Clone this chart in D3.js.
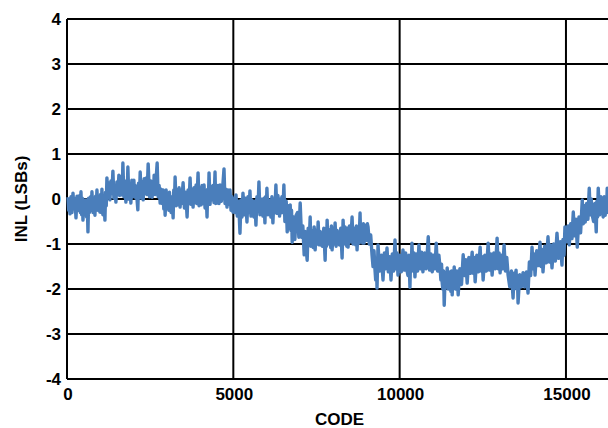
<!DOCTYPE html>
<html><head><meta charset="utf-8">
<script src="https://cdn.jsdelivr.net/npm/d3@7"></script>
<style>body{margin:0;background:#fff}svg{display:block}</style>
</head><body>
<svg id="c" width="608" height="428"></svg>
<script>
const codes = [30,50,70,90,120,150,180,210,240,270,300,330,360,380,400,420,440,460,480,510,540,570,590,610,630,650,670,690,710,730,750,780,810,840,860,880,900,930,960,990,1010,1030,1050,1080,1110,1140,1160,1180,1200,1230,1260,1290,1320,1350,1380,1410,1440,1470,1500,1530,1560,1580,1600,1620,1640,1660,1680,1710,1740,1770,1790,1810,1830,1860,1890,1920,1950,1980,2010,2030,2050,2070,2090,2110,2130,2150,2180,2200,2230,2260,2290,2320,2350,2380,2400,2420,2440,2480,2520,2560,2580,2600,2620,2650,2680,2710,2740,2770,2800,2830,2860,2890,2910,2930,2950,2980,3010,3040,3060,3080,3100,3130,3160,3190,3210,3230,3250,3280,3310,3340,3370,3400,3430,3450,3470,3490,3530,3570,3610,3640,3670,3700,3730,3760,3790,3820,3850,3880,3900,3920,3940,3970,4000,4030,4060,4090,4120,4150,4180,4210,4230,4250,4270,4300,4330,4360,4390,4420,4450,4470,4490,4510,4540,4570,4600,4640,4680,4720,4750,4780,4810,4840,4870,4900,4930,4960,4990,5020,5050,5080,5120,5160,5200,5230,5260,5290,5330,5370,5410,5440,5470,5500,5530,5560,5590,5620,5650,5680,5710,5740,5770,5800,5830,5860,5890,5920,5950,5970,5990,6010,6040,6070,6100,6130,6160,6190,6220,6250,6280,6310,6340,6370,6390,6410,6430,6460,6490,6520,6550,6590,6620,6650,6680,6710,6730,6750,6770,6810,6850,6890,6930,6970,7010,7050,7090,7130,7160,7190,7220,7250,7280,7310,7330,7350,7370,7400,7430,7460,7490,7520,7550,7580,7610,7640,7680,7720,7760,7780,7800,7820,7850,7880,7910,7930,7950,7970,8000,8030,8060,8090,8120,8150,8190,8230,8270,8300,8330,8360,8390,8410,8430,8450,8490,8530,8570,8600,8630,8660,8680,8700,8720,8750,8780,8810,8830,8850,8870,8890,8910,8930,8950,8970,8990,9010,9030,9050,9090,9130,9170,9200,9230,9260,9280,9300,9320,9350,9400,9450,9500,9540,9580,9620,9660,9700,9740,9780,9820,9860,9890,9920,9950,10000,10050,10100,10140,10180,10220,10250,10280,10310,10330,10350,10370,10400,10430,10460,10500,10540,10580,10620,10660,10700,10750,10800,10860,10900,10940,10980,11020,11060,11100,11140,11180,11220,11240,11260,11280,11300,11320,11340,11370,11400,11430,11460,11490,11520,11540,11560,11580,11600,11620,11640,11680,11720,11760,11810,11860,11910,11950,11990,12030,12080,12130,12180,12210,12240,12270,12320,12370,12420,12450,12480,12510,12560,12610,12660,12700,12740,12780,12830,12880,12930,12960,12990,13020,13060,13100,13140,13180,13220,13260,13310,13360,13410,13440,13470,13500,13520,13540,13560,13610,13660,13710,13760,13810,13860,13900,13940,13980,14010,14040,14070,14120,14170,14220,14250,14280,14310,14360,14410,14460,14500,14540,14580,14630,14680,14730,14780,14830,14880,14910,14940,14970,15010,15060,15100,15140,15180,15220,15260,15300,15340,15390,15440,15490,15520,15550,15580,15620,15660,15700,15730,15760,15790,15830,15870,15910,15930,15950,15970,16010,16050,16090,16120,16150,16180,16200,16220,16240,16280,16330,16383];
const inl = [
 0.04,-0.25,-0.02, -0.33,0.05,-0.3, 0.13,-0.22,0.0, -0.42,0.06,-0.25, 0.07,-0.05,-0.3, 0.16,-0.35,0.02,
 -0.47,-0.02,-0.28, -0.02,-0.4,-0.05, -0.73,0.02,-0.3, -0.13,0.05,-0.25, 0.16,-0.3,0.0, -0.36,0.06,-0.2,
 0.2,-0.25,0.05, -0.29,0.1,-0.3, 0.22,-0.35,0.0, -0.47,0.15,-0.15,
 0.47,0.05,0.35, -0.02,0.4,0.12, 0.62,0.02,0.3, -0.07,0.38,0.1, 0.53,0.08,0.3, 0.09,0.5,0.15,
 0.8,0.05,0.4, -0.07,0.32,0.1, 0.71,0.0,0.35, -0.09,0.42,0.05, 0.42,0.1,0.3, 0.02,0.25,-0.05,
 -0.24,0.35,0.05, 0.6,0.02,0.38, -0.02,0.45,0.12, 0.47,0.1,0.35, 0.78,0.05,0.4, 0.04,0.35,0.12,
 0.53,0.1,0.45, 0.8,0.05,0.3,
 -0.09,0.22,-0.1, 0.2,-0.22,0.1, -0.36,0.2,-0.15, 0.09,-0.25,0.15, -0.13,-0.3,0.05, -0.42,0.2,-0.1,
 0.49,-0.15,0.2, -0.13,0.25,-0.18, 0.2,-0.1,0.15, 0.36,-0.2,0.15, -0.4,0.2,-0.1, 0.47,-0.12,0.22,
 -0.18,0.25,-0.08, 0.31,-0.1,0.2, 0.58,-0.15,0.25, -0.13,0.3,-0.1, 0.31,-0.2,0.18, -0.4,0.22,-0.05,
 0.58,-0.12,0.28, -0.02,0.3,-0.08, 0.6,-0.1,0.25, -0.09,0.3,-0.1, 0.31,-0.05,0.25, 0.67,-0.1,0.22,
 -0.18,0.2,-0.12,
 0.2,-0.25,0.05, -0.29,0.0,-0.3, 0.09,-0.38,-0.05, -0.76,-0.02,-0.4, 0.13,-0.35,0.02, -0.51,0.05,-0.3,
 0.18,-0.38,-0.02, -0.24,-0.4,-0.05, -0.58,0.05,-0.28, 0.38,-0.35,0.0, -0.13,-0.38,0.02, -0.53,0.05,-0.3,
 0.24,-0.35,-0.02, -0.13,-0.4,0.05, -0.53,0.0,-0.3, 0.31,-0.32,0.08, -0.13,-0.38,0.0, -0.31,0.05,-0.3,
 0.31,-0.5,-0.05, -0.73,-0.15,-0.65, -0.13,-0.7,-0.25, -0.96,-0.4,-0.9, -0.36,-0.3,-0.85, -0.09,-0.85,-0.6,
 -1.24,-0.72,-1.1, -1.36,-0.65,-1.0, -0.4,-1.05,-0.7, -0.91,-1.08,-0.62, -1.13,-0.7,-1.0, -0.51,-1.02,-0.72,
 -1.02,-1.05,-0.65, -1.36,-0.75,-1.05, -0.47,-1.0,-0.68, -0.91,-1.08,-0.6, -1.13,-0.7,-1.0, -0.53,-1.05,-0.7,
 -0.91,-1.02,-0.65, -1.31,
 -0.47,-1.0,-0.62, -0.8,-1.05,-0.65, -1.07,-0.6,-0.95, -0.4,-1.0,-0.65, -0.8,-1.02,-0.6, -1.13,-0.65,-0.98,
 -0.31,-0.95,-0.6, -0.69,-0.98,-0.55, -0.98,-0.58,-0.9, -0.58,-0.92,-0.55, -0.62,-1.0,-0.8,
 -1.24,-1.5,-1.15, -1.58,-1.8,-1.35, -1.98,
 -1.02,-1.6,-1.25, -1.8,-1.2,-1.55, -1.09,-1.62,-1.28, -1.8,-1.22,-1.6, -0.91,-1.55,-1.2, -1.69,-1.25,-1.62,
 -1.13,-1.58,-1.2, -1.58,-1.7,-1.25, -1.96,-1.25,-1.55, -0.98,-1.6,-1.2, -1.73,-1.22,-1.6, -1.02,-1.55,-1.18,
 -1.62,-1.2,-1.55, -0.84,-1.58,-1.22, -1.62,-1.25,-1.55, -0.98,-1.6,-1.25,
 -1.58,-1.8,-1.45, -1.87,-2.0,-1.6, -2.36,-1.65,-1.95, -1.53,-2.0,-1.62, -1.91,-2.05,-1.6, -2.13,-1.65,-1.95,
 -1.51,-2.0,-1.6, -2.13,-1.55,-1.9,
 -1.24,-1.7,-1.35, -1.87,-1.3,-1.65, -1.18,-1.65,-1.3, -1.84,-1.25,-1.62, -1.07,-1.6,-1.28, -1.8,-1.25,-1.6,
 -0.98,-1.58,-1.22, -1.69,-1.2,-1.55, -0.87,-1.55,-1.2, -1.64,-1.25,-1.55, -1.02,-1.6,-1.3,
 -1.69,-1.95,-1.6, -2.2,-1.65,-1.98, -1.58,-2.0,-1.7, -2.31,-1.68,-1.95, -1.64,-1.95,-1.62, -2.09,-1.4,-1.7,
 -1.07,-1.55,-1.22, -1.69,-1.15,-1.48, -0.96,-1.5,-1.12, -1.62,-1.05,-1.42, -0.84,-1.4,-1.02, -1.53,-1.0,-1.38,
 -0.76,-1.32,-0.95, -1.47,-0.9,-1.25,
 -0.62,-0.95,-0.6, -1.02,-0.55,-0.88, -0.29,-0.82,-0.45, -1.07,-0.4,-0.75, -0.02,-0.55,-0.15, -0.51,-0.1,-0.45,
 0.24,-0.35,0.0, -0.36,-0.5,-0.1, -0.73,-0.05,-0.4, 0.24,-0.35,0.05, -0.24,-0.4,0.05, -0.36,0.0,-0.3,
 0.24,-0.3,0.1, -0.1];
const xTicks = [0,5000,10000,15000];
const yTicks = [-4,-3,-2,-1,0,1,2,3,4];
const xDomain = [0,16384];
const yDomain = [-4,4];

const svg = d3.select('#c');
const L=67, T=19, B=379, R=612;
const x = d3.scaleLinear().domain(xDomain).range([L,R]);
const y = d3.scaleLinear().domain(yDomain).range([B,T]);
const font = '"Liberation Sans", Arial, sans-serif';

// gridlines
svg.append('g').selectAll('line').data(yTicks).join('line')
  .attr('x1',L).attr('x2',R).attr('y1',d=>y(d)).attr('y2',d=>y(d))
  .attr('stroke','#000').attr('stroke-width',2);
svg.append('g').selectAll('line').data(xTicks).join('line')
  .attr('x1',d=>x(d)).attr('x2',d=>x(d)).attr('y1',T).attr('y2',B)
  .attr('stroke','#000').attr('stroke-width',2);

// data line
const n = Math.min(codes.length, inl.length);
const data = d3.range(n).map(i=>[codes[i],inl[i]]);
svg.append('path').datum(data)
  .attr('d', d3.line().x(d=>x(d[0])).y(d=>y(d[1])))
  .attr('fill','none').attr('stroke','#4a7ebb').attr('stroke-width',3.4)
  .attr('stroke-linejoin','round');

// tick labels
svg.append('g').selectAll('text').data(yTicks).join('text')
  .attr('x',61).attr('y',d=>y(d)).attr('dy','0.36em')
  .attr('text-anchor','end').attr('font-family',font).attr('font-weight','bold')
  .attr('font-size',17).text(d=>d);
svg.append('g').selectAll('text').data(xTicks).join('text')
  .attr('x',d=>x(d)+1).attr('y',400)
  .attr('text-anchor','middle').attr('font-family',font).attr('font-weight','bold')
  .attr('font-size',17).text(d=>d);

svg.append('text').attr('x',(L+R)/2).attr('y',425).attr('text-anchor','middle')
  .attr('font-family',font).attr('font-weight','bold').attr('font-size',17).text('CODE');
svg.append('text').attr('transform',`translate(27,${(T+B)/2}) rotate(-90)`).attr('text-anchor','middle')
  .attr('font-family',font).attr('font-weight','bold').attr('font-size',17).text('INL (LSBs)');
</script>
</body></html>
